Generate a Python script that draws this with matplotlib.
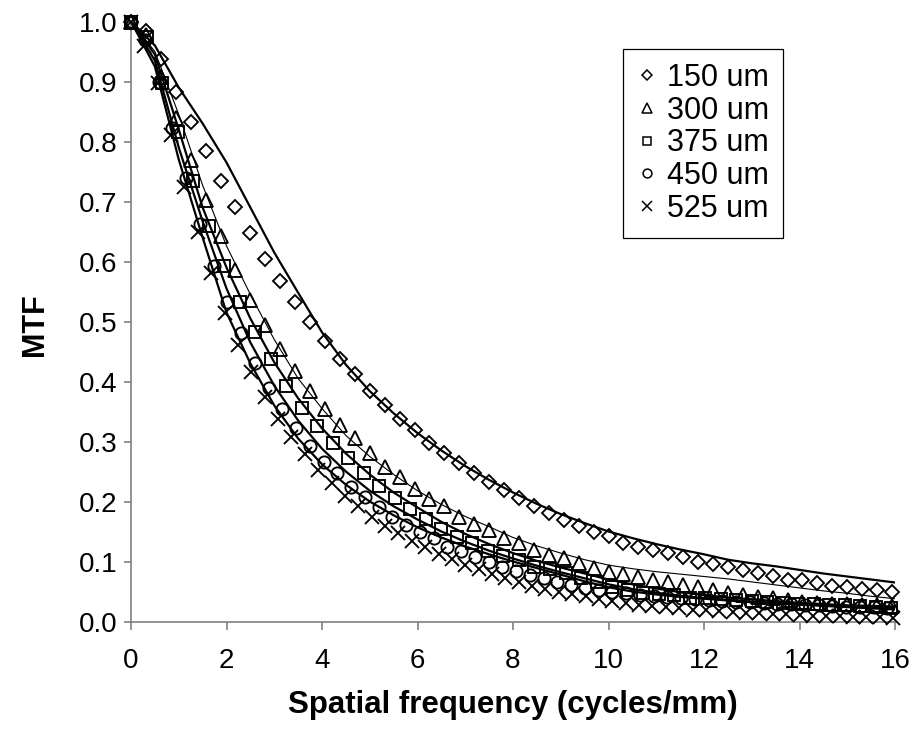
import numpy as np
import matplotlib
matplotlib.use("Agg")
import matplotlib.pyplot as plt
from matplotlib.lines import Line2D

plt.rcParams['font.family'] = ['Liberation Sans', 'DejaVu Sans']

# ---------------- data ----------------
labels = ["150 um", "300 um", "375 um", "450 um", "525 um"]

# sampling steps (cycles/mm) and point counts of the measured series
step_150, n_150 = 0.3125, 52
step_300, n_300 = 0.3125, 52
step_375, n_375 = 0.325, 50
step_450, n_450 = 0.288, 56
step_525, n_525 = 0.28, 58

mtf_150 = [1.0, 0.984, 0.937, 0.883, 0.833, 0.784, 0.734, 0.691, 0.648, 0.604,
           0.568, 0.533, 0.499, 0.468, 0.438, 0.413, 0.384, 0.361, 0.338, 0.319,
           0.298, 0.281, 0.264, 0.248, 0.233, 0.219, 0.206, 0.193, 0.181, 0.169,
           0.159, 0.149, 0.143, 0.131, 0.125, 0.119, 0.114, 0.108, 0.100, 0.096,
           0.091, 0.086, 0.081, 0.076, 0.069, 0.069, 0.064, 0.059, 0.058, 0.054,
           0.052, 0.050]
mtf_300 = [1.0, 0.978, 0.907, 0.839, 0.769, 0.703, 0.643, 0.586, 0.536, 0.494,
           0.454, 0.418, 0.384, 0.354, 0.328, 0.306, 0.281, 0.258, 0.241, 0.221,
           0.204, 0.193, 0.174, 0.163, 0.153, 0.139, 0.131, 0.119, 0.111, 0.106,
           0.097, 0.089, 0.083, 0.080, 0.074, 0.069, 0.066, 0.061, 0.058, 0.052,
           0.047, 0.045, 0.041, 0.039, 0.036, 0.033, 0.031, 0.030, 0.029, 0.027,
           0.027, 0.026]
mtf_375 = [1.0, 0.975, 0.897, 0.816, 0.734, 0.659, 0.592, 0.532, 0.483, 0.438,
           0.393, 0.356, 0.326, 0.298, 0.273, 0.248, 0.226, 0.206, 0.188, 0.171,
           0.154, 0.141, 0.131, 0.118, 0.109, 0.103, 0.091, 0.088, 0.081, 0.072,
           0.066, 0.058, 0.052, 0.048, 0.046, 0.044, 0.040, 0.039, 0.037, 0.036,
           0.034, 0.033, 0.031, 0.030, 0.029, 0.027, 0.027, 0.026, 0.024, 0.022]
mtf_450 = [1.0, 0.970, 0.899, 0.823, 0.739, 0.663, 0.592, 0.532, 0.481, 0.431,
           0.389, 0.354, 0.323, 0.293, 0.266, 0.248, 0.224, 0.208, 0.191, 0.174,
           0.161, 0.149, 0.139, 0.124, 0.118, 0.108, 0.099, 0.091, 0.084, 0.078,
           0.073, 0.066, 0.061, 0.056, 0.052, 0.049, 0.047, 0.045, 0.043, 0.041,
           0.039, 0.037, 0.036, 0.034, 0.033, 0.032, 0.031, 0.030, 0.029, 0.028,
           0.027, 0.026, 0.025, 0.025, 0.024, 0.023]
mtf_525 = [1.0, 0.960, 0.897, 0.811, 0.724, 0.649, 0.581, 0.514, 0.461, 0.416,
           0.374, 0.338, 0.308, 0.279, 0.253, 0.231, 0.210, 0.192, 0.175, 0.160,
           0.147, 0.135, 0.124, 0.113, 0.104, 0.095, 0.087, 0.080, 0.073, 0.066,
           0.060, 0.055, 0.050, 0.046, 0.042, 0.038, 0.034, 0.031, 0.028, 0.026,
           0.024, 0.022, 0.020, 0.019, 0.018, 0.016, 0.015, 0.014, 0.013, 0.012,
           0.011, 0.010, 0.010, 0.009, 0.008, 0.008, 0.007, 0.006]

# fitted curves, sampled every 0.5 cycles/mm from 0 to 16
fit_freq = np.linspace(0, 16, 33)
fit_150 = [1.0, 0.960, 0.890, 0.830, 0.765, 0.690, 0.615, 0.548, 0.482, 0.428,
           0.384, 0.347, 0.314, 0.285, 0.259, 0.236, 0.215, 0.196, 0.179, 0.164,
           0.150, 0.139, 0.129, 0.120, 0.112, 0.103, 0.097, 0.092, 0.086, 0.080,
           0.075, 0.070, 0.065]
fit_300 = [1.0, 0.950, 0.845, 0.727, 0.626, 0.545, 0.470, 0.405, 0.355, 0.310,
           0.275, 0.245, 0.218, 0.195, 0.175, 0.158, 0.140, 0.126, 0.114, 0.103,
           0.094, 0.088, 0.083, 0.079, 0.075, 0.071, 0.066, 0.061, 0.056, 0.051,
           0.047, 0.042, 0.038]
fit_375 = [1.0, 0.945, 0.820, 0.690, 0.590, 0.505, 0.432, 0.372, 0.322, 0.280,
           0.245, 0.215, 0.190, 0.166, 0.146, 0.129, 0.114, 0.101, 0.090, 0.080,
           0.070, 0.062, 0.055, 0.049, 0.044, 0.040, 0.037, 0.034, 0.031, 0.029,
           0.027, 0.026, 0.025]
fit_450 = [1.0, 0.935, 0.790, 0.667, 0.555, 0.465, 0.393, 0.335, 0.288, 0.250,
           0.218, 0.192, 0.170, 0.150, 0.133, 0.118, 0.105, 0.093, 0.082, 0.072,
           0.062, 0.054, 0.048, 0.043, 0.039, 0.036, 0.033, 0.031, 0.029, 0.027,
           0.025, 0.023, 0.022]
fit_525 = [1.0, 0.925, 0.770, 0.640, 0.515, 0.430, 0.360, 0.305, 0.262, 0.228,
           0.200, 0.177, 0.157, 0.140, 0.125, 0.112, 0.100, 0.089, 0.078, 0.067,
           0.057, 0.050, 0.045, 0.041, 0.038, 0.035, 0.032, 0.030, 0.028, 0.026,
           0.024, 0.022, 0.020]

x_ticks = [0, 2, 4, 6, 8, 10, 12, 14, 16]
y_ticks = [0.0, 0.1, 0.2, 0.3, 0.4, 0.5, 0.6, 0.7, 0.8, 0.9, 1.0]

# ---------------- figure ----------------
W, H = 917, 740
fig = plt.figure(figsize=(W / 100, H / 100), dpi=100)
ax = fig.add_axes([131 / W, 1 - 621.5 / H, (895 - 131) / W, 600 / H])

measured = [(step_150, n_150, mtf_150, 'D', 7.4),
            (step_300, n_300, mtf_300, '^', 9.6),
            (step_375, n_375, mtf_375, 's', 8.8),
            (step_450, n_450, mtf_450, 'o', 8.8),
            (step_525, n_525, mtf_525, 'x', 10.0)]
fits = [(fit_150, 1.6), (fit_300, 0.8), (fit_375, 1.6), (fit_450, 1.6), (fit_525, 1.6)]

handles = []
for (step, n, vals, mk, ms), lab in zip(measured, labels):
    freq = np.arange(n) * step
    ax.plot(freq, vals, linestyle='none', marker=mk, markersize=ms,
            markerfacecolor='none', markeredgecolor='black',
            markeredgewidth=1.35, clip_on=False, zorder=3)
    handles.append(Line2D([], [], linestyle='none', marker=mk, markersize=ms * 0.72,
                          markerfacecolor='none', markeredgecolor='black',
                          markeredgewidth=1.1, label=lab))

for vals, lw in fits:
    ax.plot(fit_freq, vals, color='black', linewidth=lw, zorder=4,
            solid_joinstyle='round')

ax.set_xlim(0, 16)
ax.set_ylim(0, 1.0)
ax.set_xticks(x_ticks)
ax.set_xticklabels([str(t) for t in x_ticks])
ax.set_yticks(y_ticks)
ax.set_yticklabels([f"{t:.1f}" for t in y_ticks])

for s in ['top', 'right']:
    ax.spines[s].set_visible(False)
for s in ['left', 'bottom']:
    ax.spines[s].set_color('#808080')
    ax.spines[s].set_linewidth(1.2)
    ax.spines[s].set_zorder(1)

ax.tick_params(axis='both', direction='out', color='#808080', width=1.2,
               labelsize=20, labelcolor='black')
ax.tick_params(axis='x', length=6, pad=13)
ax.tick_params(axis='y', length=5, pad=5)

fig.text(513 / W, 1 - 705 / H, 'Spatial frequency (cycles/mm)', ha='center', va='center',
         fontsize=22.5, fontweight='bold')
fig.text(35 / W, 1 - 325 / H, 'MTF', ha='center', va='center', rotation=90,
         fontsize=22, fontweight='bold')

leg = ax.legend(handles=handles, loc='upper left', bbox_to_anchor=(0.644, 0.954),
                borderaxespad=0, frameon=True, fancybox=False, framealpha=1,
                edgecolor='black', fontsize=22, handlelength=0.65, handletextpad=0.33,
                labelspacing=0.09, borderpad=0.45, numpoints=1)
leg.get_frame().set_linewidth(0.9)

fig.savefig('out.png', dpi=100)
